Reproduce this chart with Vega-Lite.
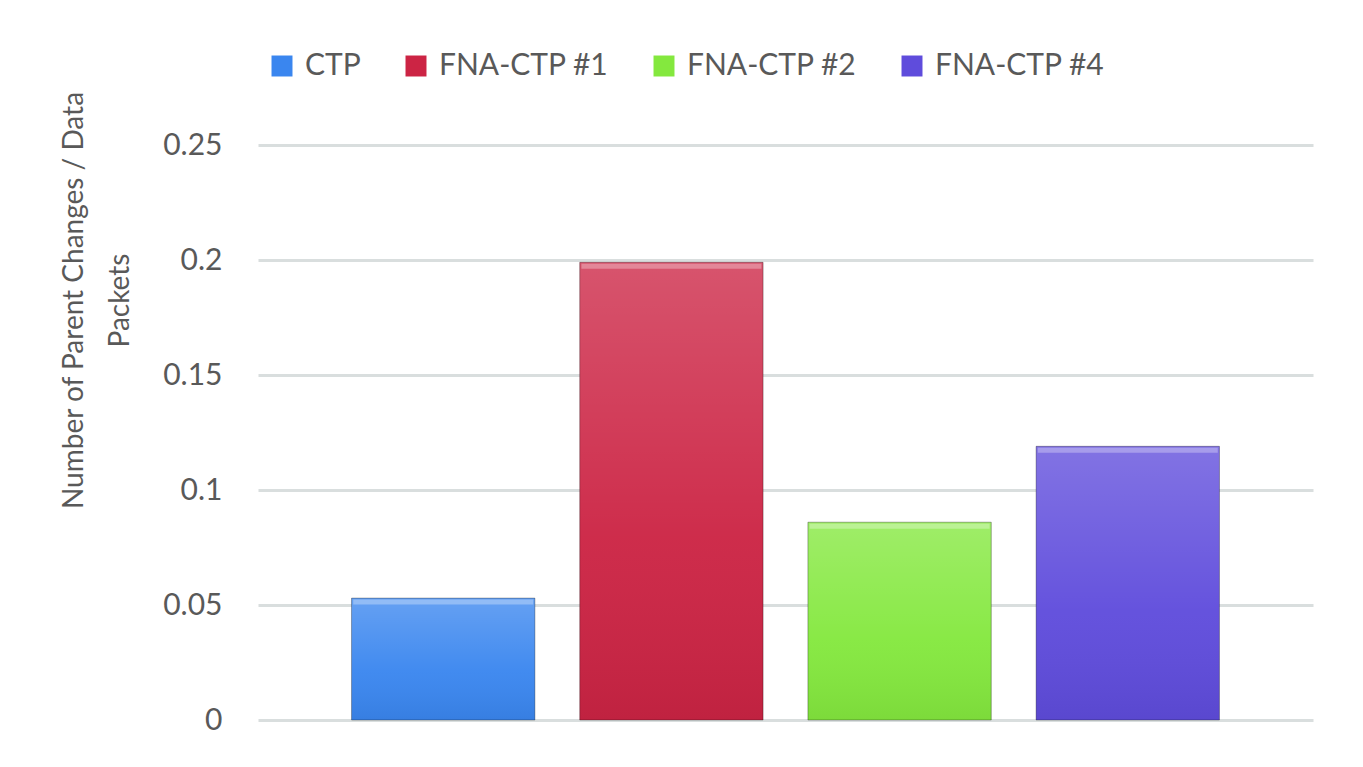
{
  "$schema": "https://vega.github.io/schema/vega-lite/v6.json",
  "width": 1055,
  "height": 575,
  "autosize": {"type": "none"},
  "padding": {"left": 258, "top": 145, "right": 50, "bottom": 47},
  "background": "white",
  "config": {"view": {"stroke": null}, "font": "Lato"},
  "data": {
    "values": [
      {"series": "CTP", "value": 0.053},
      {"series": "FNA-CTP #1", "value": 0.199},
      {"series": "FNA-CTP #2", "value": 0.086},
      {"series": "FNA-CTP #4", "value": 0.119}
    ]
  },
  "encoding": {
    "x": {
      "field": "series",
      "type": "nominal",
      "sort": null,
      "axis": null,
      "scale": {"paddingInner": 0.1965, "paddingOuter": 0.41}
    },
    "y": {
      "field": "value",
      "type": "quantitative",
      "scale": {"domain": [0, 0.25], "nice": false},
      "axis": {
        "values": [0, 0.05, 0.1, 0.15, 0.2, 0.25],
        "format": "~g",
        "domain": false,
        "ticks": false,
        "grid": true,
        "gridColor": "#d9dede",
        "gridWidth": 3,
        "labelFontSize": 30,
        "labelColor": "#595959",
        "labelPadding": 36,
        "title": ["Number of Parent Changes / Data", "Packets"],
        "titleFontSize": 28,
        "titleFontWeight": "normal",
        "titleColor": "#595959",
        "titleLineHeight": 46,
        "titleAngle": -90,
        "titleAlign": "center",
        "titleBaseline": "top",
        "titleX": -198,
        "titleY": 155
      }
    }
  },
  "layer": [
    {
      "mark": {"type": "bar"},
      "encoding": {
        "color": {
          "field": "series",
          "type": "nominal",
          "sort": null,
          "scale": {"range": ["#3a86ef", "#cc2444", "#84e83e", "#5f4cdc"]},
          "legend": {
            "orient": "none",
            "legendX": 9,
            "legendY": -94,
            "direction": "horizontal",
            "title": null,
            "symbolType": "square",
            "symbolSize": 440,
            "symbolStrokeWidth": 0,
            "labelFontSize": 30,
            "labelColor": "#595959",
            "labelOffset": 8,
            "columnPadding": 40,
            "labelLimit": 400
          }
        }
      }
    },
    {
      "mark": {
        "type": "bar",
        "fill": {
          "gradient": "linear",
          "x1": 0, "y1": 0, "x2": 0, "y2": 1,
          "stops": [
            {"offset": 0, "color": "rgba(255,255,255,0.22)"},
            {"offset": 0.6, "color": "rgba(255,255,255,0.04)"},
            {"offset": 1, "color": "rgba(0,0,0,0.06)"}
          ]
        },
        "stroke": "rgba(0,0,0,0.3)",
        "strokeWidth": 1
      }
    },
    {
      "mark": {
        "type": "tick",
        "size": 180,
        "thickness": 5,
        "yOffset": 4,
        "color": "white",
        "opacity": 0.3
      }
    }
  ]
}
